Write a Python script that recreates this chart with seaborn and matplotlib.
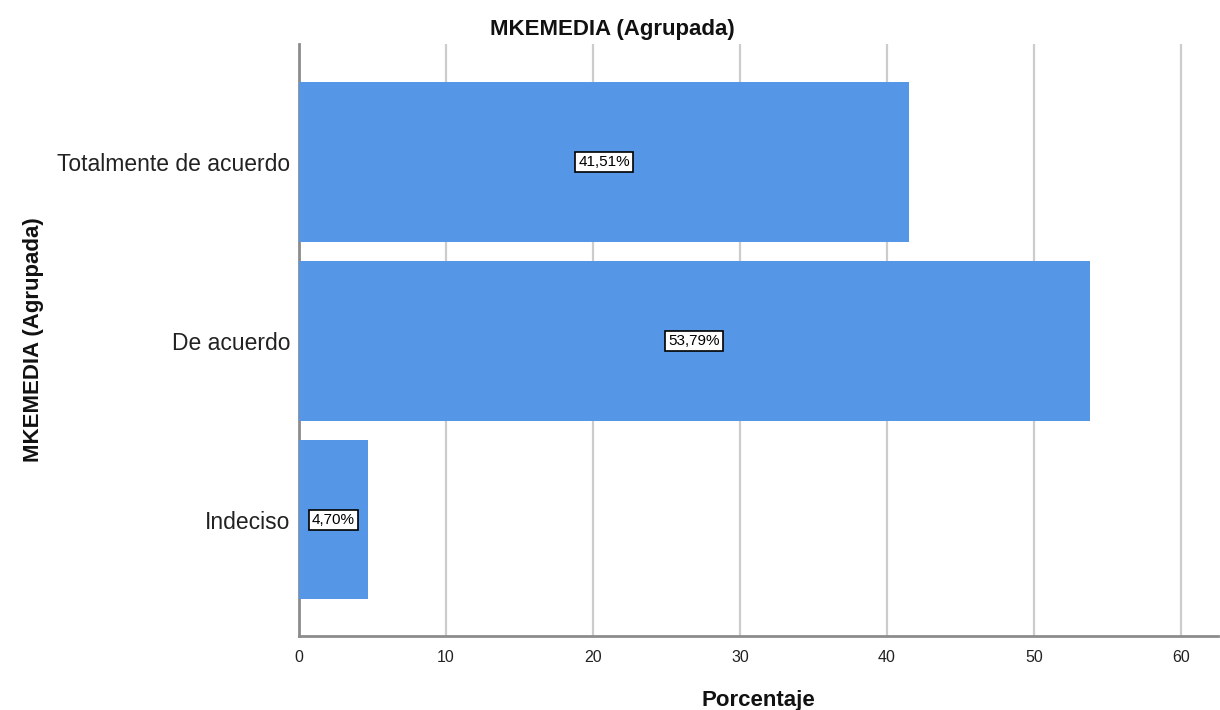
import matplotlib
matplotlib.use("Agg")
import matplotlib.pyplot as plt
import seaborn as sns
import pandas as pd

categorias = ["Totalmente de acuerdo", "De acuerdo", "Indeciso"]
porcentajes = [41.51, 53.79, 4.70]
ticks_x = [0, 10, 20, 30, 40, 50, 60]

sns.set_style("white")
plt.rcParams["font.family"] = ["Liberation Sans", "DejaVu Sans"]

df = pd.DataFrame({"categoria": categorias, "porcentaje": porcentajes})

fig = plt.figure(figsize=(12.2, 7.1), dpi=100)
ax = fig.add_axes([0.245, 0.104, 0.753, 0.834])

sns.barplot(data=df, x="porcentaje", y="categoria", orient="h",
            color="#5596E6", saturation=1, width=0.89, ax=ax, zorder=3)

for patch in ax.patches:
    patch.set_edgecolor("none")

ax.set_xlim(0, 62.5)
ax.set_ylim(2.65, -0.66)
ax.set_xticks(ticks_x)
ax.set_xticklabels([str(t) for t in ticks_x])
ax.grid(axis="x", color="#cccccc", linewidth=1.6, zorder=0)
ax.set_axisbelow(True)

for s in ("top", "right"):
    ax.spines[s].set_visible(False)
ax.spines["left"].set_color("#8c8c8c")
ax.spines["left"].set_linewidth(2)
ax.spines["bottom"].set_color("#8c8c8c")
ax.spines["bottom"].set_linewidth(2)

ax.tick_params(axis="x", length=0, labelsize=11.5, pad=10, colors="#222222")
ax.tick_params(axis="y", length=0, labelsize=16.5, pad=6, colors="#222222")

for i, v in enumerate(porcentajes):
    etiqueta = f"{v:.2f}%".replace(".", ",")
    ax.text(v / 2, i, etiqueta, ha="center", va="center", fontsize=11,
            color="black", zorder=5,
            bbox=dict(boxstyle="square,pad=0.22", facecolor="white",
                      edgecolor="black", linewidth=1.2))

fig.suptitle("MKEMEDIA (Agrupada)", x=0.502, y=0.973, fontsize=16,
             fontweight="bold", color="#111111")
ax.set_xlabel("Porcentaje", fontsize=16, fontweight="bold", labelpad=18,
              color="#111111")
ax.set_ylabel("MKEMEDIA (Agrupada)", fontsize=16, fontweight="bold",
              labelpad=10, color="#111111")

fig.savefig("out.png", dpi=100)
